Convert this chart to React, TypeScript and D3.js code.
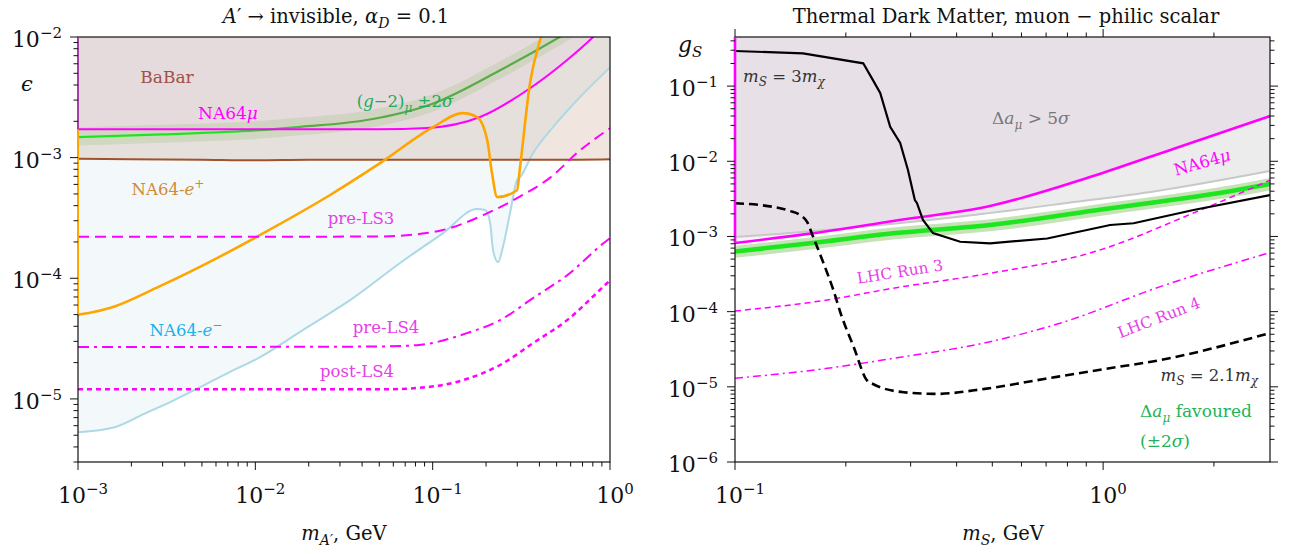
import React from 'react';
import * as d3 from 'd3';

// ---------- left panel: A' -> invisible, alpha_D = 0.1 ----------
const babarMass = [0.001, 0.002, 0.005, 0.01, 0.02, 0.05, 0.1, 0.2, 0.5, 1.0];
const babarEps = [9.8e-4, 9.7e-4, 9.6e-4, 9.5e-4, 9.6e-4, 9.6e-4, 9.6e-4, 9.6e-4, 9.6e-4, 9.7e-4];

const na64muMass = [0.001, 0.01, 0.05, 0.093, 0.185, 0.354, 0.573, 0.803, 1.0];
const na64muEps = [1.72e-3, 1.72e-3, 1.72e-3, 1.76e-3, 2.17e-3, 3.76e-3, 6.45e-3, 1.0e-2, 1.4e-2];

const gm2Mass = [0.001, 0.003, 0.01, 0.018, 0.0425, 0.1, 0.24, 0.52, 0.7];
const gm2Eps = [1.48e-3, 1.56e-3, 1.68e-3, 1.8e-3, 2.05e-3, 2.8e-3, 5.3e-3, 1.0e-2, 1.3e-2];
const gm2EpsHi = [1.78e-3, 1.87e-3, 2.0e-3, 2.15e-3, 2.45e-3, 3.35e-3, 6.3e-3, 1.2e-2, 1.55e-2];
const gm2EpsLo = [1.26e-3, 1.33e-3, 1.43e-3, 1.53e-3, 1.75e-3, 2.4e-3, 4.5e-3, 8.5e-3, 1.1e-2];

const ePlusMass = [0.001, 0.00117, 0.00151, 0.0029, 0.00608, 0.0106, 0.0264, 0.0505, 0.1005, 0.148, 0.178, 0.203, 0.216, 0.231, 0.299, 0.311, 0.354, 0.403, 0.45];
const ePlusEps = [5.0e-5, 5.18e-5, 5.66e-5, 8.61e-5, 1.47e-4, 2.28e-4, 4.9e-4, 9.0e-4, 1.79e-3, 2.34e-3, 2.17e-3, 1.4e-3, 7.45e-4, 4.71e-4, 5.37e-4, 8.35e-4, 4.16e-3, 9.4e-3, 1.6e-2];

const eMinusMass = [0.001, 0.00161, 0.00234, 0.0034, 0.00467, 0.00715, 0.01064, 0.01787, 0.02637, 0.0342, 0.0655, 0.1145, 0.178, 0.198, 0.211, 0.219, 0.234, 0.249, 0.273, 0.299, 0.311, 0.368, 0.477, 0.678, 1.0];
const eMinusEps = [5.3e-6, 5.83e-6, 7.48e-6, 9.6e-6, 1.21e-5, 1.67e-5, 2.22e-5, 3.6e-5, 5.14e-5, 6.59e-5, 1.34e-4, 2.37e-4, 3.75e-4, 3.68e-4, 2.87e-4, 1.71e-4, 1.36e-4, 1.82e-4, 3.47e-4, 6.52e-4, 6.9e-4, 1.09e-3, 1.79e-3, 3.18e-3, 5.6e-3];

const preLS3Mass = [0.001, 0.01, 0.05, 0.0925, 0.114, 0.193, 0.299, 0.458, 0.678, 1.0];
const preLS3Eps = [2.21e-4, 2.21e-4, 2.22e-4, 2.37e-4, 2.51e-4, 3.34e-4, 4.62e-4, 6.8e-4, 1.15e-3, 1.75e-3];

const preLS4Mass = [0.001, 0.01, 0.05, 0.0817, 0.156, 0.24, 0.368, 0.573, 0.938, 1.0];
const preLS4Eps = [2.7e-5, 2.7e-5, 2.72e-5, 2.79e-5, 3.51e-5, 4.5e-5, 6.85e-5, 1.06e-4, 2.0e-4, 2.15e-4];

const postLS4Mass = [0.001, 0.01, 0.05, 0.074, 0.148, 0.24, 0.368, 0.573, 0.938, 1.0];
const postLS4Eps = [1.2e-5, 1.2e-5, 1.2e-5, 1.22e-5, 1.43e-5, 1.91e-5, 2.9e-5, 4.5e-5, 8.8e-5, 9.6e-5];

// ---------- right panel: thermal DM, muon-philic scalar ----------
const na64muSMass = [0.1, 0.16, 0.269, 0.493, 0.94, 1.55, 2.84];
const na64muSG = [8.2e-4, 1.09e-3, 1.61e-3, 2.54e-3, 6.37e-3, 1.46e-2, 4.0e-2];

const amu5sMass = [0.1, 0.2, 0.4, 0.8, 1.4, 2.84];
const amu5sG = [9.8e-4, 1.29e-3, 1.82e-3, 2.79e-3, 4.03e-3, 7.43e-3];

const gm2SMass = [0.1, 0.16, 0.269, 0.493, 1.0, 2.31, 2.84];
const gm2SG = [6.3e-4, 8.1e-4, 1.1e-3, 1.42e-3, 2.3e-3, 4.15e-3, 5.0e-3];
const gm2SGHi = [7.5e-4, 9.7e-4, 1.32e-3, 1.7e-3, 2.75e-3, 4.95e-3, 6.0e-3];
const gm2SGLo = [5.2e-4, 6.7e-4, 9.1e-4, 1.17e-3, 1.9e-3, 3.42e-3, 4.1e-3];

const ratio3Mass = [0.1, 0.153, 0.223, 0.237, 0.248, 0.264, 0.281, 0.295, 0.308, 0.312, 0.324, 0.345, 0.409, 0.493, 0.705, 1.045, 1.21, 1.76, 2.84];
const ratio3G = [0.293, 0.273, 0.201, 0.12, 0.081, 0.0288, 0.0175, 7.65e-3, 3.05e-3, 2.79e-3, 1.66e-3, 1.11e-3, 8.5e-4, 8.1e-4, 9.4e-4, 1.42e-3, 1.5e-3, 2.25e-3, 3.55e-3];

const ratio21Mass = [0.1, 0.117, 0.141, 0.15, 0.157, 0.163, 0.174, 0.185, 0.195, 0.21, 0.228, 0.237, 0.287, 0.352, 0.477, 0.697, 1.02, 1.43, 2.84];
const ratio21G = [2.76e-3, 2.62e-3, 2.18e-3, 1.93e-3, 1.56e-3, 9.9e-4, 4.4e-4, 1.94e-4, 8.6e-5, 3.42e-5, 1.23e-5, 1.09e-5, 8.48e-6, 8.05e-6, 9.4e-6, 1.28e-5, 1.74e-5, 2.27e-5, 5.2e-5];

const run3Mass = [0.1, 0.178, 0.269, 0.493, 0.94, 1.76, 2.84];
const run3G = [1.02e-4, 1.43e-4, 2.05e-4, 3.24e-4, 6.2e-4, 2.05e-3, 5.6e-3];

const run4Mass = [0.1, 0.178, 0.269, 0.493, 0.763, 1.43, 2.84];
const run4G = [1.3e-5, 1.76e-5, 2.39e-5, 3.98e-5, 7.0e-5, 2.15e-4, 6.1e-4];

// tick decades
const leftXDecades = [-3, -2, -1, 0];
const leftYDecades = [-2, -3, -4, -5];
const rightXDecades = [-1, 0];
const rightYDecades = [-1, -2, -3, -4, -5, -6];

type Pt = [number, number];
const zip = (xs: number[], ys: number[]): Pt[] => xs.map((x, i) => [x, ys[i]]);
const zip3 = (xs: number[], lo: number[], hi: number[]) => xs.map((x, i) => ({ x, lo: lo[i], hi: hi[i] }));

const W = 1298;
const H = 554;
const FONT = "'DejaVu Serif', 'Liberation Serif', serif";

const L = { left: 78, right: 610, top: 37, bottom: 462 };
const R = { left: 735, right: 1270, top: 37, bottom: 462 };

const xL = d3.scaleLog().domain([1e-3, 1]).range([L.left, L.right]);
const yL = d3.scaleLog().domain([3e-6, 1e-2]).range([L.bottom, L.top]);
const xR = d3.scaleLog().domain([0.1, 2.84]).range([R.left, R.right]);
const yR = d3.scaleLog().domain([1e-6, 0.45]).range([R.bottom, R.top]);

function logTicks(domain: number[]) {
  const lo = Math.min(domain[0], domain[1]);
  const hi = Math.max(domain[0], domain[1]);
  const out: { v: number; major: boolean }[] = [];
  for (let e = Math.floor(Math.log10(lo)); e <= Math.ceil(Math.log10(hi)); e++) {
    for (let m = 1; m < 10; m++) {
      const v = m * Math.pow(10, e);
      if (v >= lo * 0.9999 && v <= hi * 1.0001) out.push({ v, major: m === 1 });
    }
  }
  return out;
}

const lineOf = (xs: any, ys: any, pts: Pt[], curve: any = d3.curveMonotoneX) =>
  d3.line<Pt>().x(d => xs(d[0])).y(d => ys(d[1])).curve(curve)(pts) || '';

const areaAbove = (xs: any, ys: any, pts: Pt[], top: number) =>
  d3.area<Pt>().x(d => xs(d[0])).y0(top).y1(d => ys(d[1])).curve(d3.curveMonotoneX)(pts) || '';

const band = (xs: any, ys: any, rows: { x: number; lo: number; hi: number }[]) =>
  d3.area<{ x: number; lo: number; hi: number }>()
    .x(d => xs(d.x)).y0(d => ys(d.lo)).y1(d => ys(d.hi))
    .curve(d3.curveMonotoneX)(rows) || '';

const Pow10 = ({ x, y, e, anchor }: { x: number; y: number; e: number; anchor: string }) => (
  <text x={x} y={y} textAnchor={anchor} fontSize={22} fill="#111">
    10<tspan dy={-9} fontSize={15}>{e < 0 ? '\u2212' + -e : String(e)}</tspan>
  </text>
);

const TICK_MAJ = 8;
const TICK_MIN = 4.5;

export default function App() {
  const ticksLX = logTicks(xL.domain());
  const ticksLY = logTicks(yL.domain());
  const ticksRX = logTicks(xR.domain());
  const ticksRY = logTicks(yR.domain());

  const magenta = '#ff00ff';
  const labelMagenta = '#e640e6';

  return (
    <svg width={W} height={H} style={{ position: 'absolute', left: 0, top: 0, background: '#fff' }} fontFamily={FONT}>
      <defs>
        <clipPath id="clipL"><rect x={L.left} y={L.top} width={L.right - L.left} height={L.bottom - L.top} /></clipPath>
        <clipPath id="clipR"><rect x={R.left} y={R.top} width={R.right - R.left} height={R.bottom - R.top} /></clipPath>
        <linearGradient id="gm2Grad" gradientUnits="userSpaceOnUse" x1={L.left} x2={L.right} y1={0} y2={0}>
          <stop offset="0" stopColor="#1ee61e" />
          <stop offset="0.36" stopColor="#1ee61e" />
          <stop offset="0.44" stopColor="#5aaa46" />
          <stop offset="1" stopColor="#5aaa46" />
        </linearGradient>
      </defs>

      {/* ===================== LEFT PANEL ===================== */}
      <g clipPath="url(#clipL)">
        <path d={areaAbove(xL, yL, zip(eMinusMass, eMinusEps), L.top)} fill="#add8e6" fillOpacity={0.15} />
        <path d={areaAbove(xL, yL, zip(babarMass, babarEps), L.top)} fill="#a0522d" fillOpacity={0.15} />
        <path d={areaAbove(xL, yL, zip(na64muMass, na64muEps), L.top)} fill="#ff00ff" fillOpacity={0.02} />
        <path d={band(xL, yL, zip3(gm2Mass, gm2EpsLo, gm2EpsHi))} fill="#7cb85c" fillOpacity={0.2} />

        <path d={lineOf(xL, yL, zip(eMinusMass, eMinusEps))} fill="none" stroke="#add8e6" strokeWidth={2} />
        <path d={lineOf(xL, yL, zip(babarMass, babarEps))} fill="none" stroke="#a0522d" strokeWidth={2} />
        <path d={lineOf(xL, yL, zip(gm2Mass, gm2Eps))} fill="none" stroke="url(#gm2Grad)" strokeWidth={2.2} />
        <path d={lineOf(xL, yL, zip(na64muMass, na64muEps))} fill="none" stroke={magenta} strokeWidth={2} />
        <path d={lineOf(xL, yL, zip(ePlusMass, ePlusEps))} fill="none" stroke="#ffa500" strokeWidth={2.6} />
        <path d={lineOf(xL, yL, zip(preLS3Mass, preLS3Eps))} fill="none" stroke={magenta} strokeWidth={2} strokeDasharray="11,6" />
        <path d={lineOf(xL, yL, zip(preLS4Mass, preLS4Eps))} fill="none" stroke={magenta} strokeWidth={2} strokeDasharray="11,5,3,5" />
        <path d={lineOf(xL, yL, zip(postLS4Mass, postLS4Eps))} fill="none" stroke={magenta} strokeWidth={2.5} strokeDasharray="5,4" />
      </g>

      {/* left frame */}
      <rect x={L.left} y={L.top} width={L.right - L.left} height={L.bottom - L.top} fill="none" stroke="#111" strokeWidth={1.2} />
      {/* region edges drawn on the left spine */}
      <line x1={L.left} x2={L.left} y1={yL(1e-2)} y2={yL(na64muEps[0])} stroke="#a040a0" strokeWidth={2} />
      <line x1={L.left} x2={L.left} y1={yL(na64muEps[0])} y2={yL(ePlusEps[0])} stroke="#ffa500" strokeWidth={2} />

      {ticksLY.map((t, i) => (
        <line key={'ly' + i} x1={L.left - (t.major ? TICK_MAJ : TICK_MIN)} x2={L.left} y1={yL(t.v)} y2={yL(t.v)} stroke="#111" strokeWidth={1} />
      ))}
      {ticksLX.map((t, i) => (
        <line key={'lx' + i} x1={xL(t.v)} x2={xL(t.v)} y1={L.bottom} y2={L.bottom + (t.major ? TICK_MAJ : TICK_MIN)} stroke="#111" strokeWidth={1} />
      ))}
      {leftYDecades.map(e => <Pow10 key={'lyl' + e} x={62} y={yL(Math.pow(10, e)) + 10} e={e} anchor="end" />)}
      {leftXDecades.map(e => <Pow10 key={'lxl' + e} x={xL(Math.pow(10, e)) + 5} y={503} e={e} anchor="middle" />)}

      <text x={336} y={23} textAnchor="middle" fontSize={19.5} fill="#111">
        <tspan fontStyle="italic">A</tspan>{'\u2032 \u2192 invisible, '}<tspan fontStyle="italic">{'\u03b1'}</tspan>
        <tspan dy={5} fontSize={14} fontStyle="italic">D</tspan><tspan dy={-5}>{' = 0.1'}</tspan>
      </text>
      <text x={344} y={540} textAnchor="middle" fontSize={19.5} fill="#111">
        <tspan fontStyle="italic">m</tspan><tspan dy={5} fontSize={14} fontStyle="italic">{'A\u2032'}</tspan><tspan dy={-5}>, GeV</tspan>
      </text>
      <text x={27} y={91} textAnchor="middle" fontSize={21} fontStyle="italic" fill="#111">{'\u03f5'}</text>

      <text x={167} y={83} textAnchor="middle" fontSize={17} fill="#a0504b">BaBar</text>
      <text x={228} y={119} textAnchor="middle" fontSize={17} fill={magenta}>NA64<tspan fontStyle="italic">{'\u03bc'}</tspan></text>
      <text x={405} y={107} textAnchor="middle" fontSize={16.5} fill="#22aa5c">
        (<tspan fontStyle="italic">g</tspan>{'\u22122)'}<tspan dy={5} fontSize={12} fontStyle="italic">{'\u03bc'}</tspan>
        <tspan dy={-5}>{' \u00b12'}</tspan><tspan fontStyle="italic">{'\u03c3'}</tspan>
      </text>
      <text x={168} y={195} textAnchor="middle" fontSize={16.5} fill="#d08a38">
        NA64-<tspan fontStyle="italic">e</tspan><tspan dy={-7} fontSize={12}>+</tspan>
      </text>
      <text x={186} y={336} textAnchor="middle" fontSize={16.5} fill="#1ab0e8">
        NA64-<tspan fontStyle="italic">e</tspan><tspan dy={-7} fontSize={12}>{'\u2212'}</tspan>
      </text>
      <text x={361} y={224} textAnchor="middle" fontSize={16.5} fill={labelMagenta}>pre-LS3</text>
      <text x={386} y={333} textAnchor="middle" fontSize={16.5} fill={labelMagenta}>pre-LS4</text>
      <text x={357} y={377} textAnchor="middle" fontSize={16.5} fill={labelMagenta}>post-LS4</text>

      {/* ===================== RIGHT PANEL ===================== */}
      <g clipPath="url(#clipR)">
        <path d={areaAbove(xR, yR, zip(amu5sMass, amu5sG), R.top)} fill="#808080" fillOpacity={0.15} />
        <path d={areaAbove(xR, yR, zip(na64muSMass, na64muSG), R.top)} fill="#800080" fillOpacity={0.05} />
        <path d={band(xR, yR, zip3(gm2SMass, gm2SGLo, gm2SGHi))} fill="#8cc870" fillOpacity={0.5} />

        <path d={lineOf(xR, yR, zip(amu5sMass, amu5sG))} fill="none" stroke="#c8c8c8" strokeWidth={2} />
        <path d={lineOf(xR, yR, zip(gm2SMass, gm2SG))} fill="none" stroke="#1ee61e" strokeWidth={4.5} />
        <path d={lineOf(xR, yR, zip(na64muSMass, na64muSG))} fill="none" stroke={magenta} strokeWidth={2.6} />
        <path d={lineOf(xR, yR, zip(run3Mass, run3G))} fill="none" stroke={magenta} strokeWidth={1.5} strokeDasharray="6,4" />
        <path d={lineOf(xR, yR, zip(run4Mass, run4G))} fill="none" stroke={magenta} strokeWidth={1.5} strokeDasharray="8,4,2,4" />
        <path d={lineOf(xR, yR, zip(ratio3Mass, ratio3G), d3.curveLinear)} fill="none" stroke="#000" strokeWidth={2.2} />
        <path d={lineOf(xR, yR, zip(ratio21Mass, ratio21G))} fill="none" stroke="#000" strokeWidth={2.6} strokeDasharray="9,5" />
      </g>

      <rect x={R.left} y={R.top} width={R.right - R.left} height={R.bottom - R.top} fill="none" stroke="#111" strokeWidth={1.2} />
      <line x1={R.left} x2={R.left} y1={R.top} y2={yR(na64muSG[0])} stroke={magenta} strokeWidth={2.6} />

      {ticksRY.map((t, i) => {
        const len = t.major ? TICK_MAJ : TICK_MIN;
        const y = yR(t.v);
        return (
          <g key={'ry' + i}>
            <line x1={R.left - len} x2={R.left} y1={y} y2={y} stroke="#111" strokeWidth={1} />
            <line x1={R.right} x2={R.right + len} y1={y} y2={y} stroke="#111" strokeWidth={1} />
          </g>
        );
      })}
      {ticksRX.map((t, i) => {
        const len = t.major ? TICK_MAJ : TICK_MIN;
        const x = xR(t.v);
        return (
          <g key={'rx' + i}>
            <line x1={x} x2={x} y1={R.bottom} y2={R.bottom + len} stroke="#111" strokeWidth={1} />
            <line x1={x} x2={x} y1={R.top - len} y2={R.top} stroke="#111" strokeWidth={1} />
          </g>
        );
      })}
      {rightYDecades.map(e => <Pow10 key={'ryl' + e} x={718} y={yR(Math.pow(10, e)) + 10} e={e} anchor="end" />)}
      {rightXDecades.map(e => <Pow10 key={'rxl' + e} x={xR(Math.pow(10, e)) + 5} y={503} e={e} anchor="middle" />)}

      <text x={1006} y={23} textAnchor="middle" fontSize={19.5} fill="#111">{'Thermal Dark Matter, muon \u2212 philic scalar'}</text>
      <text x={1003} y={540} textAnchor="middle" fontSize={19.5} fill="#111">
        <tspan fontStyle="italic">m</tspan><tspan dy={5} fontSize={14} fontStyle="italic">S</tspan><tspan dy={-5}>, GeV</tspan>
      </text>
      <text x={678} y={52} fontSize={22} fill="#111">
        <tspan fontStyle="italic">g</tspan><tspan dy={5} fontSize={15} fontStyle="italic">S</tspan>
      </text>

      <text x={743} y={82} fontSize={16.5} fill="#333">
        <tspan fontStyle="italic">m</tspan><tspan dy={4} fontSize={12} fontStyle="italic">S</tspan>
        <tspan dy={-4}>{' = 3'}</tspan><tspan fontStyle="italic">m</tspan><tspan dy={4} fontSize={12} fontStyle="italic">{'\u03c7'}</tspan>
      </text>
      <text x={992} y={124} fontSize={17} fill="#777">
        {'\u0394'}<tspan fontStyle="italic">a</tspan><tspan dy={5} fontSize={12} fontStyle="italic">{'\u03bc'}</tspan>
        <tspan dy={-5}>{' > 5'}</tspan><tspan fontStyle="italic">{'\u03c3'}</tspan>
      </text>
      <text x={1202} y={168} textAnchor="middle" fontSize={16.5} fill={magenta} transform="rotate(-16 1202 162)">
        NA64<tspan fontStyle="italic">{'\u03bc'}</tspan>
      </text>
      <text x={900} y={277} textAnchor="middle" fontSize={15.5} fill={labelMagenta} transform="rotate(-9 900 272)">LHC Run 3</text>
      <text x={1159} y={323} textAnchor="middle" fontSize={15.5} fill={labelMagenta} transform="rotate(-21 1159 318)">LHC Run 4</text>
      <text x={1258} y={381} textAnchor="end" fontSize={16.5} fill="#333">
        <tspan fontStyle="italic">m</tspan><tspan dy={4} fontSize={12} fontStyle="italic">S</tspan>
        <tspan dy={-4}>{' = 2.1'}</tspan><tspan fontStyle="italic">m</tspan><tspan dy={4} fontSize={12} fontStyle="italic">{'\u03c7'}</tspan>
      </text>
      <text x={1140} y={417} fontSize={17} fill="#22b35a">
        {'\u0394'}<tspan fontStyle="italic">a</tspan><tspan dy={5} fontSize={12} fontStyle="italic">{'\u03bc'}</tspan>
        <tspan dy={-5}>{' favoured'}</tspan>
      </text>
      <text x={1140} y={447} fontSize={17} fill="#22b35a">
        ({'\u00b12'}<tspan fontStyle="italic">{'\u03c3'}</tspan>)
      </text>
    </svg>
  );
}
